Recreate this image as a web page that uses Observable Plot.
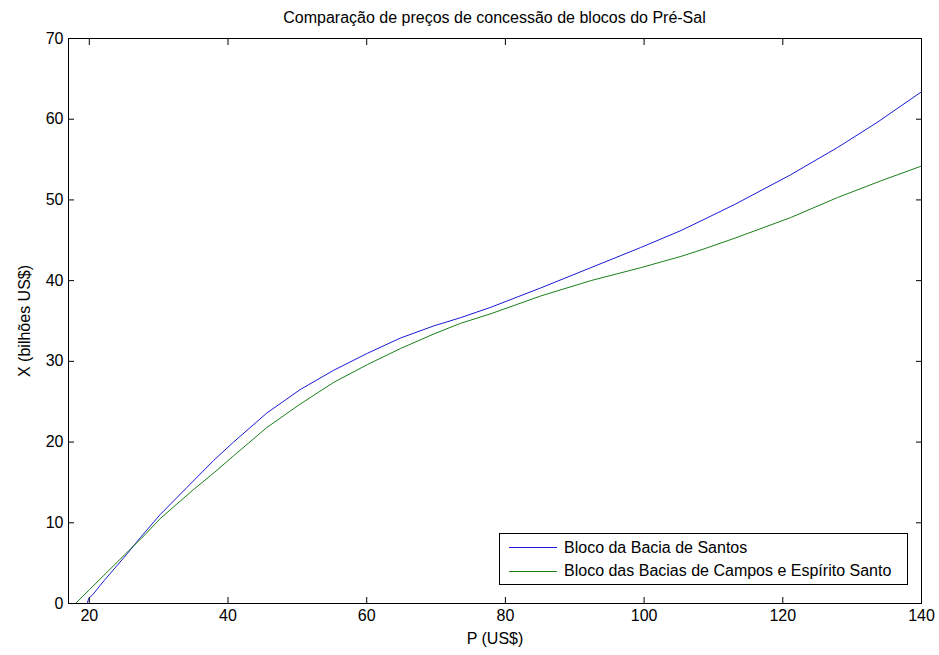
<!DOCTYPE html>
<html><head><meta charset="utf-8">
<script src="https://cdn.jsdelivr.net/npm/d3@7"></script>
<script src="https://cdn.jsdelivr.net/npm/@observablehq/plot@0.6"></script>
<style>
body{margin:0;background:#fff;}
#wrap{position:relative;width:939px;height:655px;font-family:"Liberation Sans",Arial,sans-serif;color:#000;}
#title{position:absolute;left:68px;width:853px;top:9px;line-height:18px;text-align:center;font-size:16px;}
#legend{position:absolute;left:499px;top:533px;width:409px;height:52px;border:1px solid #000;background:#fff;box-sizing:border-box;font-size:16px;padding-top:2px;}
.row{display:flex;align-items:center;height:23.5px;}
.sw{width:48px;height:0;border-top:1px solid;margin-left:9px;margin-right:7px;}
#chart svg [aria-label="x-axis tick label"], #chart svg [aria-label="y-axis tick label"]{font-family:"Liberation Sans Narrow","Liberation Sans",Arial,sans-serif;font-size:16px;}
</style></head>
<body>
<div id="wrap">
<div id="chart"></div>
<div id="title">Comparação de preços de concessão de blocos do Pré-Sal</div>
<div id="legend"></div>
</div>
<script>
const seriesNames = ["Bloco da Bacia de Santos", "Bloco das Bacias de Campos e Espírito Santo"];
const seriesColors = ["#1a1ad8", "#1a801a"];
const santosP = [17, 19.7, 19.9, 20.5, 22.1, 25.4, 27.4, 30.2, 34.1, 37.9, 40.8, 45.6, 50.4, 55.25, 60.1, 64.9, 69.7, 73.5, 77.9, 85.1, 92.3, 99.5, 105.3, 108.2, 113.2, 121.1, 127.9, 133.6, 140];
const santosX = [0, 0, 0.6, 1.1, 2.8, 6.1, 8.2, 11.0, 14.4, 17.7, 20.0, 23.6, 26.5, 28.9, 31.0, 32.9, 34.4, 35.4, 36.7, 39.1, 41.6, 44.1, 46.2, 47.4, 49.5, 53.1, 56.5, 59.6, 63.4];
const camposP = [18, 20, 22, 25.4, 28, 30.2, 35, 38.4, 40.8, 45.6, 50.4, 55.25, 60.1, 64.9, 69.7, 73.5, 77.9, 85.1, 92.3, 99.5, 105.3, 108.2, 113.2, 121.1, 127.9, 134.1, 140];
const camposX = [0, 1.7, 3.4, 6.3, 8.5, 10.5, 14.1, 16.5, 18.3, 21.8, 24.7, 27.4, 29.6, 31.6, 33.4, 34.7, 35.9, 38.1, 40.0, 41.6, 43.0, 43.8, 45.3, 47.8, 50.3, 52.35, 54.2];
const xTicks = [20, 40, 60, 80, 100, 120, 140];
const yTicks = [0, 10, 20, 30, 40, 50, 60, 70];

const santos = santosP.map((p, i) => ({p, v: santosX[i]}));
const campos = camposP.map((p, i) => ({p, v: camposX[i]}));

const chart = Plot.plot({
  width: 939, height: 655,
  marginLeft: 68, marginRight: 18, marginTop: 38, marginBottom: 52,
  x: {domain: [17, 140]},
  y: {domain: [0, 70]},
  style: {fontFamily: '"Liberation Sans", Arial, sans-serif', fontSize: "16px", color: "#000", background: "#fff"},
  marks: [
    Plot.line(santos, {x: "p", y: "v", stroke: seriesColors[0], strokeWidth: 1}),
    Plot.line(campos, {x: "p", y: "v", stroke: seriesColors[1], strokeWidth: 1}),
    Plot.frame({stroke: "#000"}),
    Plot.axisX({ticks: xTicks, anchor: "bottom", tickSize: 0, tickPadding: 6, label: "P (US$)", labelAnchor: "center", labelOffset: 40, labelArrow: "none"}),
    Plot.axisX({ticks: xTicks, anchor: "bottom", tickSize: 6, dy: -6, fill: "none", label: null}),
    Plot.axisX({ticks: xTicks, anchor: "top", tickSize: 6, dy: 6, fill: "none", label: null}),
    Plot.axisY({ticks: yTicks, anchor: "left", tickSize: 0, tickPadding: 5, label: "X (bilhões US$)", labelAnchor: "center", labelOffset: 50, labelArrow: "none"}),
    Plot.axisY({ticks: yTicks, anchor: "left", tickSize: 6, dx: 6, fill: "none", label: null}),
    Plot.axisY({ticks: yTicks, anchor: "right", tickSize: 6, dx: -6, fill: "none", label: null})
  ]
});
document.getElementById("chart").appendChild(chart);

const legend = document.getElementById("legend");
seriesNames.forEach((name, i) => {
  const row = document.createElement("div");
  row.className = "row";
  const sw = document.createElement("div");
  sw.className = "sw";
  sw.style.borderTopColor = seriesColors[i];
  const t = document.createElement("span");
  t.textContent = name;
  row.appendChild(sw); row.appendChild(t);
  legend.appendChild(row);
});
</script>
</body></html>
